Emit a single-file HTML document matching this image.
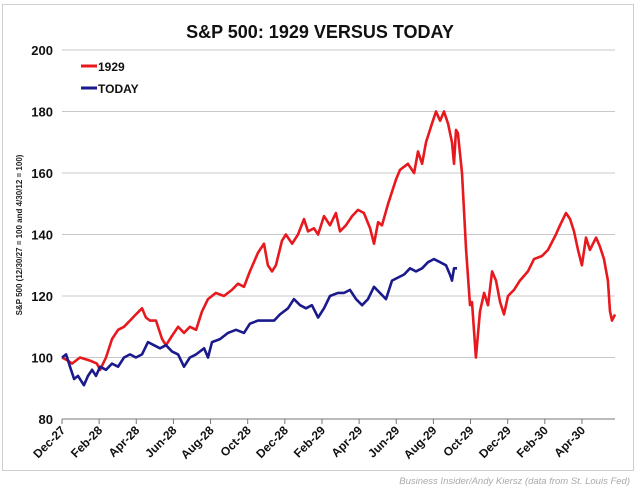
<!DOCTYPE html>
<html><head><meta charset="utf-8"><style>
body{margin:0;background:#fff;width:640px;height:492px;overflow:hidden;font-family:"Liberation Sans",sans-serif}
</style></head><body>
<svg id="chart" width="640" height="492" xmlns="http://www.w3.org/2000/svg">
<rect x="2.5" y="4.5" width="631" height="466" fill="#fff" stroke="#cfcfcf" stroke-width="1"/>
<text x="320" y="38" text-anchor="middle" font-size="18" font-weight="bold" fill="#111">S&amp;P 500: 1929 VERSUS TODAY</text>
<g id="grid"></g>
<g id="yticks"></g>
<g id="xticks"></g>
<g id="series"></g>
<text transform="translate(22,235) rotate(-90)" text-anchor="middle" font-size="8" font-weight="bold" fill="#222">S&amp;P 500 (12/30/27 = 100 and 4/30/12 = 100)</text>
<g>
<line x1="81" y1="66" x2="97" y2="66" stroke="#e8191e" stroke-width="3"/>
<text x="98" y="71" font-size="12" font-weight="bold" fill="#111">1929</text>
<line x1="81" y1="88" x2="97" y2="88" stroke="#1a1a8c" stroke-width="3"/>
<text x="98" y="93" font-size="12" font-weight="bold" fill="#111">TODAY</text>
</g>
<text x="630" y="484" text-anchor="end" font-size="9.5" font-style="italic" fill="#aaa">Business Insider/Andy Kiersz (data from St. Louis Fed)</text>
</svg>
<script>
const yTicks=[80,100,120,140,160,180,200];
const xTickLabels=["Dec-27","Feb-28","Apr-28","Jun-28","Aug-28","Oct-28","Dec-28","Feb-29","Apr-29","Jun-29","Aug-29","Oct-29","Dec-29","Feb-30","Apr-30"];
const xTickMonths=[0,2,4,6,8,10,12,14,16,18,20,22,24,26,28];
const red1929Months=[0,0.32,0.54,0.97,1.51,1.88,2.05,2.37,2.69,3.02,3.34,3.66,3.98,4.31,4.52,4.74,5.06,5.39,5.6,5.92,6.25,6.57,6.89,7.22,7.54,7.86,8.29,8.72,9.15,9.48,9.8,10.12,10.55,10.88,11.09,11.31,11.52,11.85,12.06,12.39,12.71,13.03,13.25,13.57,13.79,14.11,14.43,14.75,14.97,15.29,15.62,15.94,16.26,16.59,16.8,17.02,17.23,17.56,17.99,18.2,18.63,18.96,19.17,19.39,19.6,19.92,20.14,20.36,20.57,20.79,21.0,21.11,21.22,21.32,21.54,21.76,21.97,22.08,22.29,22.51,22.73,22.94,23.16,23.37,23.59,23.8,24.02,24.34,24.66,25.09,25.42,25.85,26.17,26.6,26.82,27.14,27.36,27.57,27.79,28.0,28.22,28.43,28.76,28.97,29.19,29.4,29.51,29.62,29.78];
const red1929Values=[100,99,98,100,99,98,96,100,106,109,110,112,114,116,113,112,112,106,104,107,110,108,110,109,115,119,121,120,122,124,123,128,134,137,130,128,130,138,140,137,140,145,141,142,140,146,143,147,141,143,146,148,147,142,137,144,143,150,158,161,163,160,167,163,170,176,180,177,180,176,170,163,174,173,160,135,117,118,100,115,121,117,128,125,118,114,120,122,125,128,132,133,135,140,143,147,145,141,135,130,139,135,139,136,132,125,115,112,114];
const todayMonths=[0,0.22,0.43,0.65,0.86,1.18,1.4,1.62,1.83,2.05,2.37,2.69,3.02,3.34,3.66,3.98,4.31,4.63,4.95,5.28,5.6,5.92,6.25,6.57,6.89,7.22,7.65,7.86,8.08,8.51,8.94,9.37,9.8,10.12,10.55,10.99,11.42,11.74,12.17,12.49,12.82,13.14,13.46,13.79,14.11,14.43,14.86,15.19,15.51,15.83,16.16,16.48,16.8,17.12,17.45,17.77,18.09,18.42,18.74,19.06,19.39,19.71,20.03,20.36,20.68,20.89,21.0,21.11,21.27];
const todayValues=[100,101,97,93,94,91,94,96,94,97,96,98,97,100,101,100,101,105,104,103,104,102,101,97,100,101,103,100,105,106,108,109,108,111,112,112,112,114,116,119,117,116,117,113,116,120,121,121,122,119,117,119,123,121,119,125,126,127,129,128,129,131,132,131,130,127,125,129,129];

const NS="http://www.w3.org/2000/svg";
const X0=62,X1=615,MMAX=29.78,Y0=419,Y1=50,VMIN=80,VMAX=200;
const xs=m=>X0+(X1-X0)*m/MMAX;
const ys=v=>Y0-(Y0-Y1)*(v-VMIN)/(VMAX-VMIN);
function mk(tag,attrs,parent){const e=document.createElementNS(NS,tag);for(const k in attrs)e.setAttribute(k,attrs[k]);parent.appendChild(e);return e;}
const grid=document.getElementById('grid'),yt=document.getElementById('yticks'),xt=document.getElementById('xticks'),ser=document.getElementById('series');
yTicks.forEach(v=>{
  const l=mk('line',{x1:X0,x2:X1,y1:ys(v),y2:ys(v),stroke:v===80?'#777':'#c8c8c8','stroke-width':1},grid);
  
  
  const t=mk('text',{x:X0-9,y:ys(v)+5,'text-anchor':'end','font-size':13,'font-weight':'bold',fill:'#111'},yt);
  t.textContent=v;
  
  
});
xTickMonths.forEach((m,i)=>{
  const x=xs(m);
  const tk=mk('line',{x1:x,x2:x,y1:Y0,y2:Y0+5,stroke:'#777'},xt);
  
  
  const t=mk('text',{x:x+4,y:Y0+12,'text-anchor':'end','font-size':12,'font-weight':'bold',fill:'#111',transform:`rotate(-45 ${x+4} ${Y0+12})`},xt);
  t.textContent=xTickLabels[i];
  
  
});
function line(ms,vs,color,name){
  const d=ms.map((m,i)=>(i?'L':'M')+xs(m).toFixed(1)+','+ys(vs[i]).toFixed(1)).join('');
  const p=mk('path',{d,fill:'none',stroke:color,'stroke-width':2.6,'stroke-linejoin':'round'},ser);
  
  
}
line(red1929Months,red1929Values,'#e8191e','line-1929');
line(todayMonths,todayValues,'#1a1a8c','line-today');
</script>
</body></html>
